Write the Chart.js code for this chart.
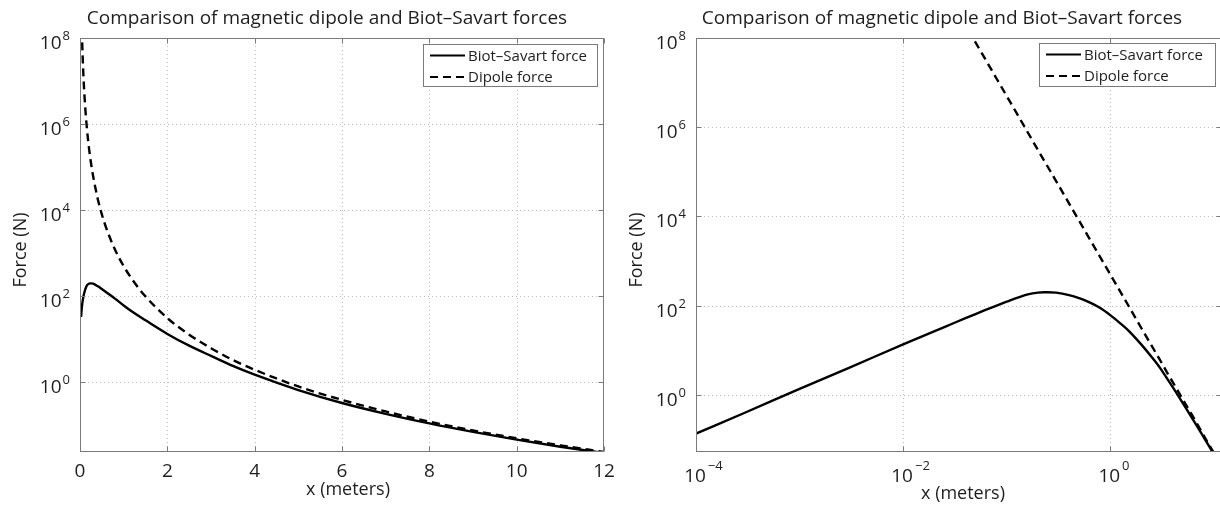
<!DOCTYPE html>
<html>
<head>
<meta charset="utf-8">
<script src="https://cdn.jsdelivr.net/npm/chart.js@4.4.0/dist/chart.umd.min.js"></script>
<style>
  html, body { margin: 0; padding: 0; background: #fff; overflow: hidden; width: 1220px; height: 509px; }
  canvas { position: absolute; top: 0; }
  #leftChart { left: 0; }
  #rightChart { left: 620px; }
</style>
</head>
<body>
<canvas id="leftChart" width="620" height="509"></canvas>
<canvas id="rightChart" width="620" height="509"></canvas>
<script>
// values
var xMeters = [0.0001, 0.0003, 0.001, 0.003, 0.01, 0.025, 0.04, 0.05, 0.06, 0.08, 0.1, 0.13, 0.16, 0.2, 0.23, 0.25, 0.3, 0.4, 0.5, 0.6, 0.8,
               1, 1.25, 1.5, 2, 2.5, 3, 3.5, 4, 5, 6, 7, 8, 9, 10, 11, 12];
var biotSavart = [0.135, 0.40, 1.35, 4.0, 13.5, 33, 52, 64.6, 76.7, 100, 122, 153, 178, 195, 199, 199, 195, 172, 147, 124, 88,
                  61, 40, 27.5, 13.3, 7.1, 4.1, 2.4, 1.5, 0.66, 0.33, 0.185, 0.111, 0.0705, 0.0465, 0.0318, 0.0227];
var dipole = [null, null, null, null, 5e10, 1.28e9, 1.95e8, 8e7, 3.86e7, 1.22e7, 5e6, 1.75e6, 7.6e5, 3.1e5, 1.78e5, 1.28e5, 6.2e4, 1.95e4, 8000, 3860, 1220,
              500, 205, 99, 31, 12.8, 6.2, 3.3, 1.95, 0.80, 0.39, 0.21, 0.122, 0.076, 0.050, 0.0342, 0.0241];

var linearXTicks = [0, 2, 4, 6, 8, 10, 12];
var logXTickExp = [-4, -2, 0];
var forceTickExp = [0, 2, 4, 6, 8];

var titleText = 'Comparison of magnetic dipole and Biot\u2013Savart forces';
var seriesNames = ['Biot\u2013Savart force', 'Dipole force'];

var FONT = '"Open Sans", "Noto Sans", sans-serif';
var INK = '#1e1e1e';
var FRAME = '#7a7a7a';

function pairs(xs, ys, fromX) {
    var out = [];
    for (var i = 0; i < xs.length; i++) {
        if (xs[i] >= fromX && ys[i] != null) out.push({x: xs[i], y: ys[i]});
    }
    return out;
}

function expText(e) {
    return e < 0 ? '\u2212' + (-e) : String(e);
}

// MATLAB-like frame: dotted grid, box, inward ticks, labels, legend
var matlabFrame = {
    id: 'matlabFrame',
    beforeDatasetsDraw: function(chart) {
        var a = chart.chartArea, ctx = chart.ctx;
        var xs = chart.scales.x, ys = chart.scales.y;
        ctx.save();
        ctx.strokeStyle = '#bcbcbc';
        ctx.lineWidth = 1;
        ctx.setLineDash([1, 3]);
        xs.ticks.forEach(function(t) {
            var px = Math.round(xs.getPixelForValue(t.value)) + 0.5;
            if (px < a.left + 2 || px > a.right - 2) return;
            ctx.beginPath(); ctx.moveTo(px, a.top); ctx.lineTo(px, a.bottom); ctx.stroke();
        });
        ys.ticks.forEach(function(t) {
            var py = Math.round(ys.getPixelForValue(t.value)) + 0.5;
            if (py < a.top + 2 || py > a.bottom - 2) return;
            ctx.beginPath(); ctx.moveTo(a.left, py); ctx.lineTo(a.right, py); ctx.stroke();
        });
        ctx.restore();
    },
    afterDraw: function(chart, args, opts) {
        var a = chart.chartArea, ctx = chart.ctx;
        var xs = chart.scales.x, ys = chart.scales.y;
        var L = Math.round(a.left) + 0.5, R = Math.round(a.right) - 0.5;
        var T = Math.round(a.top) + 0.5, B = Math.round(a.bottom) - 0.5;
        ctx.save();

        // box + tick marks
        ctx.strokeStyle = FRAME;
        ctx.lineWidth = 1;
        ctx.strokeRect(L, T, R - L, B - T);
        ctx.beginPath();
        xs.ticks.forEach(function(t) {
            var px = Math.round(xs.getPixelForValue(t.value)) + 0.5;
            ctx.moveTo(px, B); ctx.lineTo(px, B - 5);
            ctx.moveTo(px, T); ctx.lineTo(px, T + 5);
        });
        ys.ticks.forEach(function(t) {
            var py = Math.round(ys.getPixelForValue(t.value)) + 0.5;
            ctx.moveTo(L, py); ctx.lineTo(L + 5, py);
            ctx.moveTo(R, py); ctx.lineTo(R - 5, py);
        });
        ctx.stroke();

        ctx.fillStyle = INK;
        ctx.textBaseline = 'alphabetic';

        // y tick labels 10^e
        ys.ticks.forEach(function(t) {
            var e = Math.round(Math.log10(t.value));
            var py = ys.getPixelForValue(t.value);
            ctx.font = '13px ' + FONT;
            ctx.textAlign = 'right';
            var ex = a.left - 10;
            ctx.fillText(expText(e), ex, py + 2);
            var ew = ctx.measureText(expText(e)).width;
            ctx.font = '19px ' + FONT;
            ctx.fillText('10', ex - ew - 1, py + 11);
        });

        // x tick labels
        xs.ticks.forEach(function(t) {
            var px = xs.getPixelForValue(t.value);
            if (opts.logX) {
                var e = Math.round(Math.log10(t.value));
                ctx.font = '19px ' + FONT;
                ctx.textAlign = 'center';
                ctx.fillText('10', px - 1, a.bottom + 30);
                var w = ctx.measureText('10').width;
                ctx.font = '13px ' + FONT;
                ctx.textAlign = 'left';
                ctx.fillText(expText(e), px - 1 + w / 2 + 2, a.bottom + 18);
            } else {
                ctx.font = '19px ' + FONT;
                ctx.textAlign = 'center';
                ctx.fillText(String(t.value), px, a.bottom + 25);
            }
        });

        // axis titles
        ctx.font = '18px ' + FONT;
        ctx.textAlign = 'center';
        ctx.fillText('x (meters)', (a.left + a.right) / 2 + opts.xTitleShift, a.bottom + opts.xTitleY);
        ctx.save();
        ctx.translate(opts.yTitleX, 250);
        ctx.rotate(-Math.PI / 2);
        ctx.fillText('Force (N)', 0, 0);
        ctx.restore();

        // chart title
        ctx.font = '19px ' + FONT;
        ctx.textAlign = 'center';
        ctx.fillText(titleText, (a.left + a.right) / 2 + opts.titleShift, 24);

        // legend box inside upper right
        var lb = opts.legend;
        ctx.fillStyle = '#fff';
        ctx.fillRect(lb.x, lb.y, lb.w, lb.h);
        ctx.strokeStyle = FRAME;
        ctx.strokeRect(lb.x + 0.5, lb.y + 0.5, lb.w - 1, lb.h - 1);
        chart.data.datasets.forEach(function(ds, i) {
            var ry = lb.y + 11.5 + i * 21.5;
            ctx.strokeStyle = '#000';
            ctx.lineWidth = 2.2;
            ctx.setLineDash(ds.borderDash || []);
            ctx.beginPath(); ctx.moveTo(lb.x + 7, ry); ctx.lineTo(lb.x + 42, ry); ctx.stroke();
            ctx.setLineDash([]);
            ctx.fillStyle = INK;
            ctx.font = '15px ' + FONT;
            ctx.textAlign = 'left';
            ctx.fillText(ds.label, lb.x + 45, ry + 5);
        });
        ctx.restore();
    }
};

function makeChart(id, fromX, xScale, yMin, yWidth, padRight, frameOpts) {
    var ctx = document.getElementById(id).getContext('2d');
    return new Chart(ctx, {
        type: 'line',
        data: {
            datasets: [{
                label: seriesNames[0],
                data: pairs(xMeters, biotSavart, fromX),
                borderColor: '#000',
                borderWidth: 2.4,
                pointRadius: 0,
                cubicInterpolationMode: 'monotone'
            }, {
                label: seriesNames[1],
                data: pairs(xMeters, dipole, fromX),
                borderColor: '#000',
                borderWidth: 2.4,
                borderDash: [8, 5],
                pointRadius: 0,
                cubicInterpolationMode: 'monotone'
            }]
        },
        options: {
            responsive: false,
            animation: false,
            events: [],
            layout: { padding: { top: 38, right: padRight, left: 0, bottom: 0 } },
            plugins: {
                legend: { display: false },
                title: { display: false },
                tooltip: { enabled: false },
                matlabFrame: frameOpts
            },
            scales: {
                x: Object.assign({
                    grid: { display: false },
                    border: { display: false },
                    ticks: { display: false },
                    afterFit: function(s) { s.height = 57; }
                }, xScale),
                y: {
                    type: 'logarithmic',
                    min: yMin,
                    max: 1e8,
                    grid: { display: false },
                    border: { display: false },
                    ticks: { display: false },
                    afterBuildTicks: function(s) {
                        s.ticks = forceTickExp.map(function(e) { return {value: Math.pow(10, e)}; });
                    },
                    afterFit: function(s) { s.width = yWidth; }
                }
            }
        },
        plugins: [matlabFrame]
    });
}

makeChart('leftChart', 0.02, {
    type: 'linear', min: 0, max: 12,
    afterBuildTicks: function(s) {
        s.ticks = linearXTicks.map(function(v) { return {value: v}; });
    }
}, 0.024, 80, 16, {
    logX: false, xTitleShift: 6, xTitleY: 43, yTitleX: 26, titleShift: -15,
    legend: {x: 423, y: 44, w: 175, h: 43}
});

makeChart('rightChart', 0.0001, {
    type: 'logarithmic', min: 0.0001, max: 12,
    afterBuildTicks: function(s) {
        s.ticks = logXTickExp.map(function(e) { return {value: Math.pow(10, e)}; });
    }
}, 0.052, 76, 18, {
    logX: true, xTitleShift: 4, xTitleY: 47, yTitleX: 22, titleShift: -17,
    legend: {x: 419, y: 43, w: 177, h: 44}
});
</script>
</body>
</html>
